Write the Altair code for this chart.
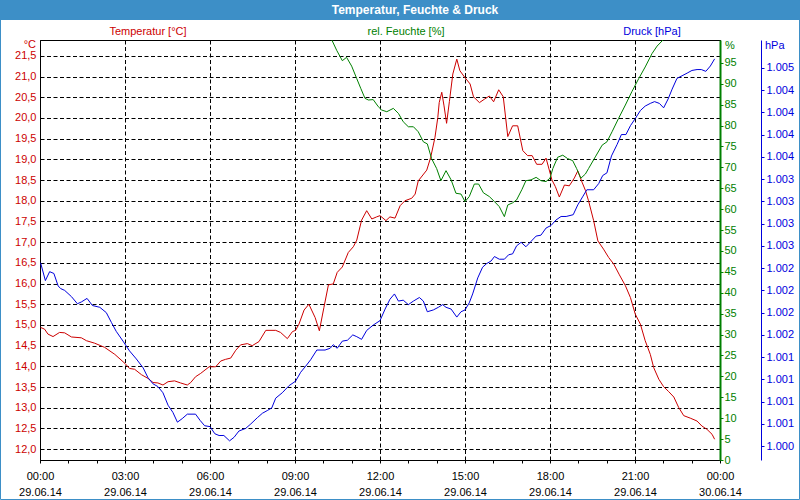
import altair as alt
import pandas as pd

# ---------------- data ----------------
TITLE = "Temperatur, Feuchte & Druck"
HEAD_TEMP = "Temperatur [°C]"
HEAD_HUM = "rel. Feuchte [%]"
HEAD_PRES = "Druck [hPa]"
UNIT_TEMP = "°C"
UNIT_HUM = "%"
UNIT_PRES = "hPa"

temp_hours = [0.02, 0.16, 0.28, 0.46, 0.69, 0.87, 1.11, 1.46, 1.64, 1.93, 2.28, 2.64, 3.0, 3.16, 3.34,
              3.58, 3.81, 3.99, 4.16, 4.34, 4.52, 4.75, 4.96, 5.2, 5.32, 5.49, 5.67, 5.97, 6.2, 6.38,
              6.55, 6.73, 6.91, 7.08, 7.32, 7.49, 7.73, 7.97, 8.32, 8.49, 8.73, 8.91, 9.02, 9.14, 9.32,
              9.49, 9.71, 9.86, 10.02, 10.18, 10.35, 10.49, 10.67, 10.88, 11.06, 11.18, 11.35, 11.53,
              11.71, 11.88, 12.0, 12.21, 12.35, 12.53, 12.71, 12.88, 13.12, 13.24, 13.35, 13.65, 13.79,
              13.94, 14.04, 14.09, 14.18, 14.26, 14.35, 14.45, 14.57, 14.71, 14.82, 14.98, 15.18, 15.3,
              15.51, 15.68, 15.86, 16.01, 16.19, 16.35, 16.51, 16.68, 16.86, 17.04, 17.21, 17.37, 17.53,
              17.72, 17.86, 18.07, 18.19, 18.33, 18.51, 18.68, 18.86, 18.98, 19.13, 19.25, 19.36, 19.54,
              19.69, 19.89, 20.07, 20.25, 20.45, 20.66, 20.84, 21.01, 21.19, 21.36, 21.54, 21.66, 21.84,
              22.01, 22.19, 22.37, 22.54, 22.72, 22.95, 23.19, 23.36, 23.54, 23.72, 23.81]
temp_values = [14.94, 14.90, 14.78, 14.72, 14.82, 14.81, 14.71, 14.69, 14.62, 14.56, 14.46, 14.29, 14.07,
               13.95, 13.93, 13.80, 13.71, 13.61, 13.60, 13.55, 13.63, 13.65, 13.60, 13.55, 13.61, 13.75,
               13.83, 13.99, 13.99, 14.13, 14.17, 14.20, 14.39, 14.52, 14.55, 14.50, 14.60, 14.87, 14.87,
               14.82, 14.67, 14.84, 14.87, 15.02, 15.36, 15.50, 15.18, 14.86, 15.42, 15.97, 15.99, 16.27,
               16.40, 16.75, 16.89, 17.05, 17.53, 17.76, 17.56, 17.61, 17.64, 17.52, 17.61, 17.58, 17.88,
               18.00, 18.06, 18.16, 18.48, 18.74, 19.05, 19.53, 20.01, 20.37, 20.62, 20.29, 19.87, 20.40,
               21.06, 21.42, 21.14, 20.99, 20.82, 20.51, 20.37, 20.45, 20.53, 20.39, 20.68, 20.51, 19.55,
               19.81, 19.81, 19.21, 19.09, 19.09, 18.88, 18.88, 19.03, 18.50, 18.34, 18.09, 18.38, 18.36,
               18.55, 18.72, 18.45, 18.25, 18.00, 17.52, 17.03, 16.83, 16.63, 16.47, 16.21, 15.95, 15.66,
               15.26, 15.02, 14.62, 14.29, 13.97, 13.69, 13.51, 13.39, 13.26, 13.01, 12.81, 12.75, 12.68,
               12.56, 12.48, 12.36, 12.24]

hum_hours = [10.17, 10.29, 10.47, 10.67, 10.82, 11.0, 11.18, 11.32, 11.47, 11.59, 11.76, 11.94, 12.06,
             12.24, 12.47, 12.65, 12.82, 13.0, 13.18, 13.35, 13.53, 13.67, 13.82, 14.0, 14.15, 14.33,
             14.51, 14.68, 14.86, 15.0, 15.15, 15.33, 15.48, 15.65, 15.86, 16.04, 16.21, 16.39, 16.51,
             16.68, 16.82, 17.01, 17.15, 17.33, 17.51, 17.68, 17.86, 18.0, 18.1, 18.27, 18.45, 18.62,
             18.8, 18.94, 19.09, 19.25, 19.36, 19.6, 19.84, 20.01, 20.19, 20.42, 20.66, 20.89, 21.13,
             21.36, 21.6, 21.78, 22.01, 22.2]
hum_values = [102.5, 100.6, 98.0, 95.5, 96.3, 94.2, 91.2, 88.9, 86.5, 86.1, 86.2, 84.5, 83.7, 83.3, 84.1,
              82.9, 80.9, 79.7, 79.7, 78.5, 76.1, 75.6, 72.1, 69.7, 66.8, 69.2, 67.0, 63.8, 63.6, 61.8,
              63.0, 66.0, 66.0, 63.9, 63.0, 61.8, 60.6, 58.2, 61.0, 61.5, 62.2, 64.7, 66.8, 67.0, 67.6,
              66.8, 66.6, 67.4, 69.7, 72.4, 72.9, 72.1, 71.6, 69.7, 67.4, 68.4, 69.7, 72.5, 75.3, 76.1,
              78.5, 81.7, 84.9, 88.1, 91.2, 94.0, 97.2, 99.0, 100.6, 102.5]

pres_hours = [0.02, 0.19, 0.34, 0.49, 0.64, 0.73, 0.87, 1.11, 1.32, 1.46, 1.66, 1.85, 2.11, 2.34, 2.52,
              2.69, 2.93, 3.16, 3.4, 3.64, 3.81, 3.99, 4.16, 4.34, 4.52, 4.69, 4.85, 5.02, 5.2, 5.49,
              5.65, 5.81, 6.0, 6.17, 6.32, 6.49, 6.69, 6.85, 7.02, 7.26, 7.44, 7.67, 7.85, 8.02, 8.18,
              8.32, 8.55, 8.79, 9.02, 9.2, 9.38, 9.55, 9.77, 10.06, 10.24, 10.35, 10.49, 10.67, 10.85,
              11.04, 11.18, 11.35, 11.53, 11.76, 12.0, 12.18, 12.35, 12.51, 12.65, 12.82, 13.0, 13.18,
              13.39, 13.53, 13.67, 13.88, 14.06, 14.21, 14.33, 14.51, 14.71, 14.86, 15.0, 15.15, 15.27,
              15.45, 15.62, 15.76, 15.92, 16.04, 16.21, 16.39, 16.54, 16.68, 16.82, 16.98, 17.15, 17.33,
              17.51, 17.68, 17.86, 18.04, 18.21, 18.39, 18.57, 18.82, 18.98, 19.15, 19.3, 19.54, 19.72,
              19.86, 20.01, 20.17, 20.37, 20.52, 20.68, 20.84, 21.01, 21.19, 21.36, 21.54, 21.69, 21.86,
              22.01, 22.17, 22.31, 22.48, 22.66, 22.84, 23.01, 23.19, 23.34, 23.5, 23.66, 23.81]
pres_values = [1002.31, 1002.11, 1002.21, 1002.19, 1002.05, 1002.02, 1002.00, 1001.93, 1001.85, 1001.87,
               1001.91, 1001.83, 1001.81, 1001.75, 1001.64, 1001.54, 1001.43, 1001.32, 1001.23, 1001.13,
               1001.02, 1000.95, 1000.92, 1000.85, 1000.71, 1000.63, 1000.52, 1000.56, 1000.61, 1000.61,
               1000.54, 1000.48, 1000.47, 1000.39, 1000.37, 1000.37, 1000.31, 1000.35, 1000.42, 1000.45,
               1000.50, 1000.57, 1000.62, 1000.65, 1000.68, 1000.79, 1000.85, 1000.93, 1000.98, 1001.08,
               1001.15, 1001.22, 1001.33, 1001.33, 1001.35, 1001.39, 1001.35, 1001.43, 1001.44, 1001.50,
               1001.48, 1001.45, 1001.55, 1001.61, 1001.66, 1001.79, 1001.90, 1001.96, 1001.88, 1001.89,
               1001.84, 1001.88, 1001.92, 1001.88, 1001.76, 1001.78, 1001.81, 1001.84, 1001.81, 1001.79,
               1001.70, 1001.76, 1001.78, 1001.86, 1001.96, 1002.14, 1002.26, 1002.30, 1002.33, 1002.38,
               1002.35, 1002.35, 1002.40, 1002.41, 1002.50, 1002.54, 1002.49, 1002.55, 1002.61, 1002.62,
               1002.70, 1002.73, 1002.79, 1002.83, 1002.83, 1002.85, 1002.96, 1003.05, 1003.13, 1003.13,
               1003.20, 1003.29, 1003.32, 1003.51, 1003.64, 1003.75, 1003.75, 1003.85, 1003.93, 1004.02,
               1004.07, 1004.10, 1004.12, 1004.10, 1004.05, 1004.15, 1004.26, 1004.38, 1004.41, 1004.44,
               1004.47, 1004.48, 1004.48, 1004.46, 1004.52, 1004.60]

temp_ticks = [12.0, 12.5, 13.0, 13.5, 14.0, 14.5, 15.0, 15.5, 16.0, 16.5, 17.0, 17.5, 18.0, 18.5, 19.0,
              19.5, 20.0, 20.5, 21.0, 21.5]
hum_ticks = [0, 5, 10, 15, 20, 25, 30, 35, 40, 45, 50, 55, 60, 65, 70, 75, 80, 85, 90, 95]
pres_ticks = [1000.25, 1000.5, 1000.75, 1001.0, 1001.25, 1001.5, 1001.75, 1002.0, 1002.25, 1002.5,
              1002.75, 1003.0, 1003.25, 1003.5, 1003.75, 1004.0, 1004.25, 1004.5]
time_tick_hours = list(range(0, 25))

temp_domain = [11.739, 21.882]
hum_domain = [0, 100.45]
pres_domain = [1000.095, 1004.812]

# ---------------- styling ----------------
FONT = "Liberation Sans"
RED = "#cc0000"
GREEN = "#008000"
BLUE = "#0000dd"
BAR = "#3d8fc7"

day0 = pd.Timestamp("2014-06-29")


def times(hours):
    return [day0 + pd.Timedelta(hours=h) for h in hours]


temp_df = pd.DataFrame({"zeit": times(temp_hours), "wert": temp_values})
hum_df = pd.DataFrame({"zeit": times(hum_hours), "wert": hum_values})
pres_df = pd.DataFrame({"zeit": times(pres_hours), "wert": pres_values})


def dt(h):
    if h >= 24:
        return alt.DateTime(year=2014, month=6, date=30, hours=h - 24)
    return alt.DateTime(year=2014, month=6, date=29, hours=h)


x_axis = alt.Axis(
    values=[dt(h) for h in time_tick_hours],
    labelExpr="hours(datum.value) % 3 == 0 ? [timeFormat(datum.value, '%H:%M'), timeFormat(datum.value, '%d.%m.%y')] : ''",
    labelFont=FONT, labelFontSize=11, labelColor="black", labelPadding=7, labelLineHeight=16,
    labelOverlap=False, labelFlush=False, labelAngle=0,
    tickSize=3, tickColor="black", domainColor="black",
    grid=True, gridColor="black", gridDash=[4, 2.5], gridWidth=1,
    gridOpacity={"condition": {"test": "hours(datum.value) % 3 == 0", "value": 1}, "value": 0},
    title=None,
)
x_enc = alt.X("zeit:T", scale=alt.Scale(domain=[dt(0), dt(24)]), axis=x_axis)

temp_line = alt.Chart(temp_df).mark_line(color=RED, strokeWidth=1, clip=True).encode(
    x=x_enc,
    y=alt.Y("wert:Q", scale=alt.Scale(domain=temp_domain, nice=False, zero=False),
            axis=alt.Axis(orient="left", values=temp_ticks,
                          labelExpr="replace(format(datum.value, '.1f'), '.', ',')",
                          labelFont=FONT, labelFontSize=11, labelColor=RED, labelPadding=4,
                          ticks=False, domainColor="black", grid=True, gridColor="black",
                          gridDash=[4, 2.5], gridWidth=1, title=None, labelOverlap=False)),
)

hum_line = alt.Chart(hum_df).mark_line(color=GREEN, strokeWidth=1, clip=True).encode(
    x=x_enc,
    y=alt.Y("wert:Q", scale=alt.Scale(domain=hum_domain, nice=False, zero=False),
            axis=alt.Axis(orient="right", values=hum_ticks, format="d",
                          labelFont=FONT, labelFontSize=11, labelColor=GREEN, labelPadding=1,
                          tickSize=3, tickColor=GREEN, domainColor=GREEN, domainWidth=2,
                          grid=False, title=None, labelOverlap=False)),
)

pres_line = alt.Chart(pres_df).mark_line(color=BLUE, strokeWidth=1, clip=True).encode(
    x=x_enc,
    y=alt.Y("wert:Q", scale=alt.Scale(domain=pres_domain, nice=False, zero=False),
            axis=alt.Axis(orient="right", offset=41, values=pres_ticks,
                          labelExpr="replace(format(datum.value, ',.0f'), ',', '.')",
                          labelFont=FONT, labelFontSize=11, labelColor=BLUE, labelPadding=2,
                          tickSize=3, tickColor=BLUE, domainColor=BLUE, domainWidth=1,
                          grid=False, title=None, labelOverlap=False)),
)

one = pd.DataFrame({"a": [0]})

title_bar = alt.Chart(one).mark_rect(color=BAR).encode(
    x=alt.value(-40), x2=alt.value(760), y=alt.value(-40), y2=alt.value(-20))
frame = alt.Chart(one).mark_rect(fillOpacity=0, stroke=BAR, strokeWidth=1).encode(
    x=alt.value(-39.5), x2=alt.value(759.5), y=alt.value(-39.5), y2=alt.value(459.5))


def label(text, x, y, color, align="center", bold=False, size=11):
    return alt.Chart(one).mark_text(
        text=text, color=color, align=align, baseline="middle", font=FONT,
        fontSize=size, fontWeight="bold" if bold else "normal",
    ).encode(x=alt.value(x), y=alt.value(y))


texts = [
    label(TITLE, 375, -30, "white", bold=True, size=12),
    label(HEAD_TEMP, 108, -8, RED),
    label(HEAD_HUM, 366, -8, GREEN),
    label(HEAD_PRES, 612, -8, BLUE),
    label(UNIT_TEMP, -4, 5, RED, align="right"),
    label(UNIT_HUM, 685, 6, GREEN, align="left"),
    label(UNIT_PRES, 725, 6, BLUE, align="left"),
]

chart = alt.layer(
    temp_line, hum_line, pres_line, title_bar, frame, *texts
).resolve_scale(y="independent").properties(
    width=680, height=420,
    autosize=alt.AutoSizeParams(type="none"),
    padding={"left": 40, "top": 40, "right": 80, "bottom": 40},
    background="white",
).configure_view(stroke="black", strokeWidth=1)

chart.save("out.html", embed_options={"renderer": "svg", "actions": False})
